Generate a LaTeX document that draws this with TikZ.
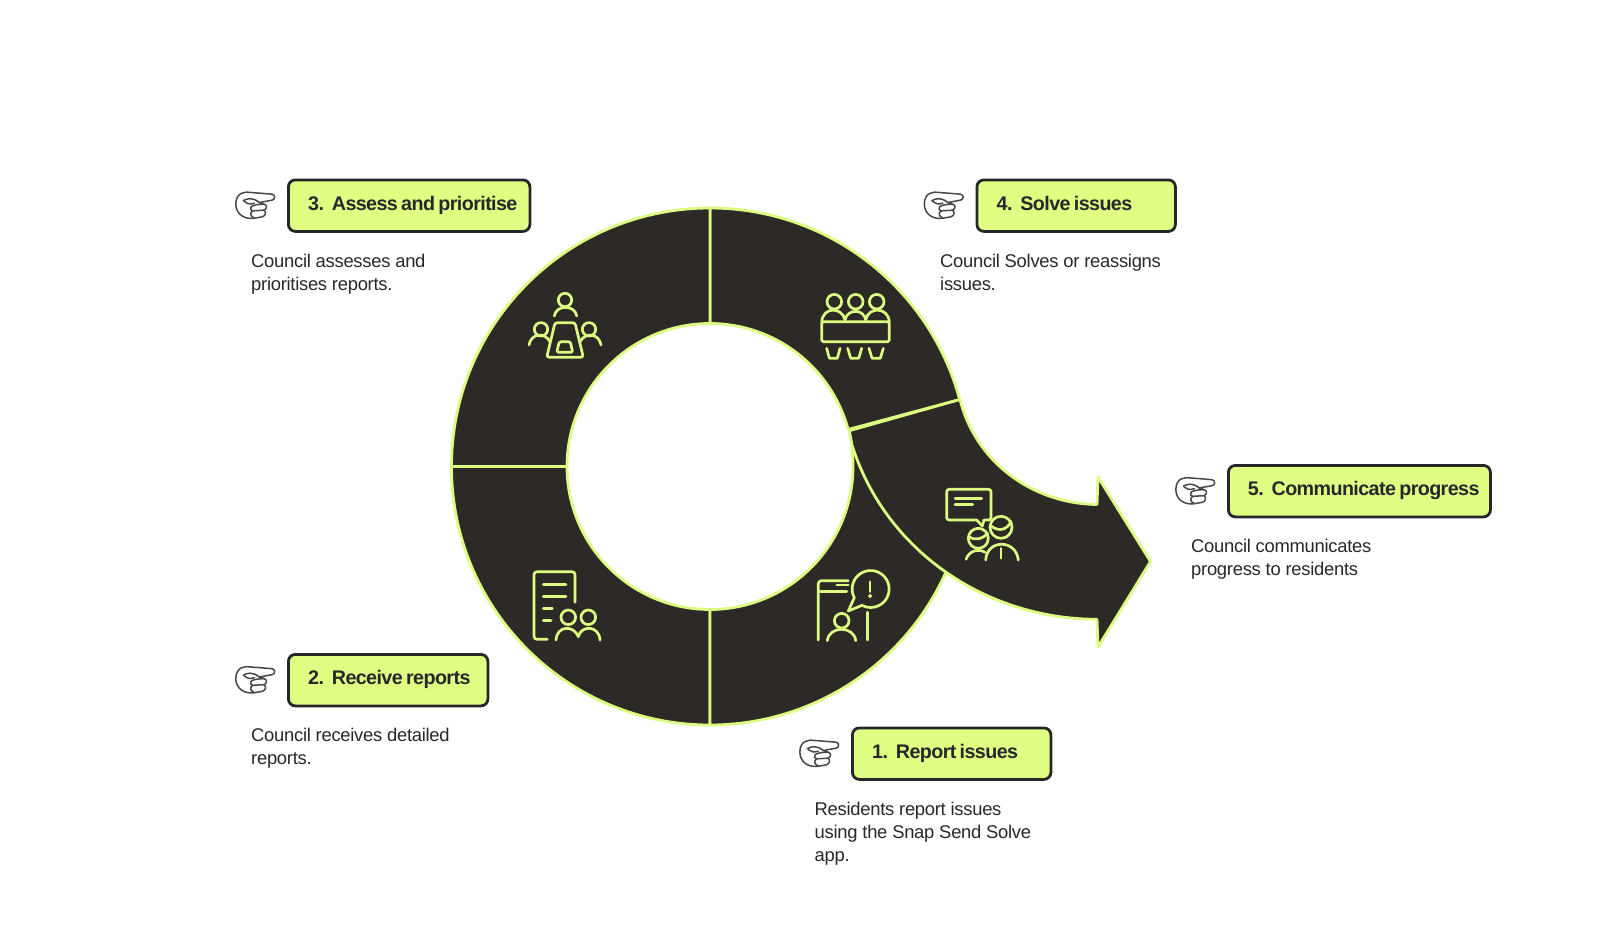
\documentclass[tikz,border=0pt]{standalone}
\usepackage{fontspec}
\setmainfont{Liberation Sans}
\newfontfamily\titlefont[LetterSpace=-3]{Liberation Sans}
\newcommand{\tightwords}{\spaceskip 0.17em\relax}
\definecolor{ringdark}{HTML}{2D2926}
\definecolor{limeline}{HTML}{DCFB80}
\definecolor{limefill}{HTML}{E0FF82}
\definecolor{inktext}{HTML}{26272B}
\tikzset{
  seg/.style={fill=ringdark,draw=limeline,line width=2.8pt,line join=round},
  ico/.style={draw=limeline,line width=2.7pt,line cap=round,line join=round,rounded corners=1.5pt},
  stepbox/.style={draw=inktext,fill=limefill,line width=2.8pt,rounded corners=7pt,anchor=north west,inner sep=0pt,inner xsep=19pt,align=left,text=inktext,text height=14pt,text depth=5pt,font=\titlefont\fontsize{19.7}{23}\selectfont\bfseries},
  bodytext/.style={anchor=north west,inner sep=0pt,align=left,text=inktext,font=\fontsize{18.4}{23}\selectfont\addfontfeatures{LetterSpace=-1.5}},
  handline/.style={draw=inktext!85,line width=1.5pt,line cap=round,line join=round},
  pics/handpic/.style={code={
    \begin{scope}[xscale=0.32,yscale=-1/3]
      \path[handline,fill=white] (60,15) .. controls (40,11) and (12,15) .. (12,50)
        .. controls (12,80) and (40,97) .. (70,92) -- (95,88)
        .. controls (106,84) and (108,74) .. (100,68)
        .. controls (110,64) and (111,52) .. (100,50) -- (85,45) -- (125,38)
        .. controls (136,36) and (136,22) .. (125,20) -- cycle;
      \path[handline] (35,40) .. controls (45,33) and (65,28) .. (85,45);
      \path[handline] (38,42) .. controls (45,48) and (55,52) .. (70,47);
      \path[handline] (100,50) .. controls (85,50) and (68,52) .. (60,57)
        .. controls (55,63) and (58,70) .. (65,70) -- (100,68);
      \path[handline] (65,70) .. controls (56,74) and (55,86) .. (70,92);
    \end{scope}
  }}
}
\begin{document}
\begin{tikzpicture}[x=1pt,y=1pt,yscale=-1]
\useasboundingbox (0,0) rectangle (1600,932);
% ring segments
\begin{scope}[shift={(710,466.5)}]
  \path[seg] (-90:143) -- (-90:258.5) arc (-90:-15:258.5) -- (-15:143) arc (-15:-90:143) -- cycle;
  \path[seg] (-180:143) -- (-180:258.5) arc (-180:-90:258.5) -- (-90:143) arc (-90:-180:143) -- cycle;
  \path[seg] (90:143) -- (90:258.5) arc (90:180:258.5) -- (180:143) arc (180:90:143) -- cycle;
  \path[seg] (90:143) -- (90:258.5) arc (90:-8:258.5) -- (-8:143) arc (-8:90:143) -- cycle;
\end{scope}
% arrow segment
\path[seg] (960,399.5) .. controls (975,460) and (1030,503.5) .. (1097,504.5)
  -- (1098,477) -- (1150.5,561.5) -- (1098,647) -- (1097,619.3)
  .. controls (985,619) and (885,550) .. (852,445) -- (849.3,430.7) -- cycle;
% icon 3
\draw[ico] (565,300) circle (6.7);
\draw[ico] (554.3,316) .. controls (556,304.5) and (575,304.5) .. (576.7,316);
\draw[ico] (541,329.3) circle (6.7);
\draw[ico] (529,345) .. controls (531,333) and (545,332) .. (550,341.7);
\draw[ico] (589,329.3) circle (6.7);
\draw[ico] (601,345) .. controls (599,333) and (585,332) .. (580,341.7);
\draw[ico,rounded corners=2.5pt] (555,322.7) -- (575,322.7) -- (583.3,357.3) -- (546.7,357.3) -- cycle;
\draw[ico] (559.3,341.7) -- (570.3,341.7) -- (572.7,352.3) -- (556.7,352.3) -- cycle;
% icon 4
\draw[ico] (834.3,301.7) circle (7.3);
\draw[ico] (855.7,301.7) circle (7.3);
\draw[ico] (876.7,301.7) circle (7.3);
\draw[ico] (821.7,321.7) -- (889.3,321.7) -- (889.3,341.7) -- (821.7,341.7) -- cycle;
\draw[ico] (821.7,321.7) .. controls (823,306.5) and (842,306.5) .. (845,320);
\draw[ico] (845,320) .. controls (847,308.5) and (864,308.5) .. (865.7,320);
\draw[ico] (865.7,320) .. controls (868,306.5) and (888,306.5) .. (889.3,321.7);
\draw[ico,rounded corners=0.5pt] (826.7,348.3) -- (829.3,358.3) -- (837.3,358.3) -- (840,348.3);
\draw[ico,rounded corners=0.5pt] (847.7,348.3) -- (850.7,358.3) -- (858.7,358.3) -- (861.7,348.3);
\draw[ico,rounded corners=0.5pt] (869,348.3) -- (872,358.3) -- (880.3,358.3) -- (883.3,348.3);
% icon 5
\draw[ico,rounded corners=2.5pt] (976.7,520) -- (946.7,520) -- (946.7,489.3) -- (991,489.3) -- (991,520) -- (984,520);
\draw[ico,rounded corners=0pt] (976.7,520) -- (982.3,526) -- (984,520);
\draw[ico] (955,498.3) -- (981.7,498.3);
\draw[ico] (955,504.3) -- (972.7,504.3);
\draw[ico] (1001,527.3) circle (11);
\draw[ico] (991,526) .. controls (999,532) and (1007,530) .. (1011,521.5);
\draw[ico] (978.3,538.3) circle (10);
\draw[ico] (969,536.7) .. controls (975,541) and (983,539) .. (987.7,533.3);
\draw[ico] (985.7,560) .. controls (987,539) and (1016,539) .. (1018.3,560);
\draw[ico] (1001,548.3) -- (1001,558.3);
\draw[ico] (966,559.3) .. controls (969,551) and (978,548) .. (985,552.3);
% icon 1
\draw[ico,rounded corners=3pt] (818.3,640) -- (818.3,580.7) -- (848.3,580.7);
\draw[ico] (820,591.7) -- (846.7,591.7);
\draw[ico] (836.7,585) -- (848.3,585);
\draw[ico] (867.3,612.3) -- (867.3,640);
\draw[ico,rounded corners=0pt] (854.3,597.7) arc (152:478:18.5) -- (848.3,611) -- cycle;
\draw[ico] (870,581.7) -- (870,591.7);
\draw[draw=limeline,line width=1.2pt] (870,596) circle (1.4);
\draw[ico] (841.7,620.7) circle (7.3);
\draw[ico] (827.3,640.7) .. controls (829,625.5) and (854,625.5) .. (855.7,640.7);
% icon 2
\draw[ico,rounded corners=3pt] (547.3,639.3) -- (534,639.3) -- (534,571.7) -- (575,571.7) -- (575,602.3);
\draw[ico] (543.3,584.3) -- (566,584.3);
\draw[ico] (543.3,596.7) -- (566,596.7);
\draw[ico] (543.3,608.3) -- (552.3,608.3);
\draw[ico] (543.3,620.7) -- (551,620.7);
\draw[ico] (568.3,617.3) circle (7.3);
\draw[ico] (588.3,617.3) circle (7.3);
\draw[ico] (556,640) .. controls (557,625) and (574,625) .. (578.3,636.7);
\draw[ico] (578.3,636.7) .. controls (581,625) and (599,625) .. (600,640);
% labels
\node[stepbox,minimum width=241.5pt,minimum height=51.5pt,text width=202pt] (box3) at (287,178.5) {\tightwords\mbox{3.\hspace{-0.1em} Assess and prioritise}};
\node[stepbox,minimum width=198.5pt,minimum height=51.5pt,text width=159pt] (box4) at (975.5,178.5) {\tightwords\mbox{4.\hspace{-0.1em} Solve issues}};
\node[stepbox,minimum width=262pt,minimum height=51.5pt,text width=223pt] (box5) at (1227,464) {\tightwords\mbox{5.\hspace{-0.1em} Communicate progress}};
\node[stepbox,minimum width=199.5pt,minimum height=51.5pt,text width=160pt] (box2) at (287,653) {\tightwords\mbox{2.\hspace{-0.1em} Receive reports}};
\node[stepbox,minimum width=198.5pt,minimum height=51.5pt,text width=159pt] (box1) at (851,726.5) {\tightwords\mbox{1.\hspace{-0.1em} Report issues}};
\pic at (232,187.5) {handpic};
\pic at (920.5,187.5) {handpic};
\pic at (1172,473) {handpic};
\pic at (232,662) {handpic};
\pic at (796,735.5) {handpic};
\node[bodytext] (text3) at (251,253.5) {Council assesses and\\prioritises reports.};
\node[bodytext] (text4) at (940,253.5) {Council Solves or reassigns\\issues.};
\node[bodytext] (text5) at (1191,538.5) {Council communicates\\progress to residents};
\node[bodytext] (text2) at (251,727.5) {Council receives detailed\\reports.};
\node[bodytext] (text1) at (814.5,801.5) {Residents report issues\\using the Snap Send Solve\\app.};
\end{tikzpicture}
\end{document}
